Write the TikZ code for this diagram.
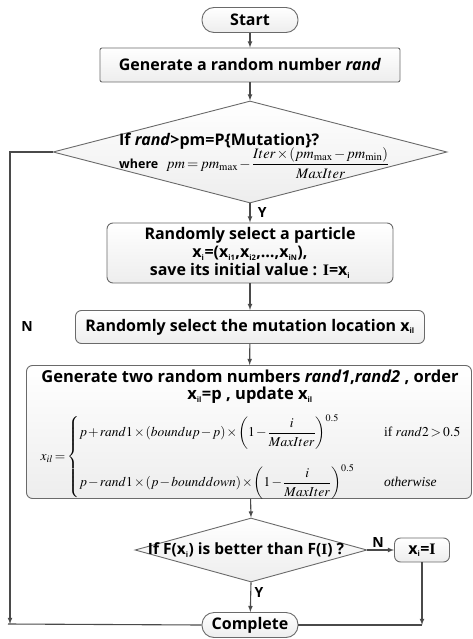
\documentclass[tikz,border=0pt]{standalone}
\usepackage{amsmath}
\usepackage{mathptmx}
\usepackage[no-math]{fontspec}
\setmainfont{Liberation Serif}
\setsansfont{Open Sans}
\usepackage{tikz}
\usetikzlibrary{shapes,arrows,positioning,calc}
\usepackage{xcolor}

\definecolor{edgegray}{HTML}{6A6A6A}
\definecolor{linegray}{HTML}{4A4A4A}
\newcommand{\lowidx}[1]{\textsubscript{\fontsize{7.5}{7.5}\selectfont #1}}
\newcommand{\serifI}{{\rmfamily\bfseries I}}
\newcommand{\tightmath}{\medmuskip=1.5mu\thickmuskip=2.5mu\thinmuskip=1mu}

\begin{document}
\begin{tikzpicture}[x=1pt, y=-1pt,
  step box/.style={draw=edgegray, line width=0.9pt, rounded corners=6pt, top color=white, bottom color=gray!14, align=center, font=\sffamily\bfseries\fontsize{16}{18}\selectfont, inner sep=2pt},
  terminal/.style={step box, rounded corners=12pt, minimum width=96pt, minimum height=25pt},
  decision/.style={diamond, draw=edgegray, line width=0.9pt, top color=white, bottom color=gray!14, inner sep=0pt},
  arr/.style={draw=linegray, line width=1.1pt, -latex},
  line/.style={draw=linegray, line width=1.1pt},
  tag/.style={font=\sffamily\bfseries\fontsize{14}{16}\selectfont, text=black}
]
  \useasboundingbox (0,0) rectangle (472,639);

  % main column
  \node[terminal] (start) at (250,20) {Start};
  \node[step box, rounded corners=2pt, minimum width=300pt, minimum height=34pt] (gen) at (250,65) {Generate a random number \textit{rand}};

  \node[decision, minimum width=394pt, minimum height=102pt] (cond1) at (250,152) {};
  \node[align=left, anchor=west, inner sep=0pt] (cond1txt) at (119,156)
    {{\sffamily\bfseries\fontsize{16}{18}\selectfont If \textit{rand}>pm=P\{Mutation\}?}\\[-3pt]
     {\sffamily\bfseries\fontsize{12.5}{14}\selectfont where}\hspace{0.8em}%
     {\fontsize{14.5}{16}\selectfont\tightmath$\displaystyle pm=pm_{\max}-\frac{Iter\times\left(pm_{\max}-pm_{\min}\right)}{MaxIter}$}};

  \node[step box, minimum width=286pt, minimum height=60pt] (pick) at (250,253)
    {Randomly select a particle\\
     x\lowidx{i}=(x\lowidx{i1},x\lowidx{i2},\dots,x\lowidx{iN}),\\
     save its initial value : \serifI=x\lowidx{i}};

  \node[step box, minimum width=349pt, minimum height=33pt] (loc) at (250,327)
    {Randomly select the mutation location x\lowidx{il}};

  \node[step box, minimum width=445pt, minimum height=133pt] (upd) at (249,432) {};
  \node[align=center, font=\sffamily\bfseries\fontsize{16.5}{17}\selectfont, inner sep=0pt] (updtxt) at (250,387)
    {Generate two random numbers \textit{rand1},\textit{rand2} , order\\
     x\lowidx{il}=p , update x\lowidx{il}};
  \node[inner sep=0pt, font=\fontsize{13.5}{15}\selectfont] (updeq) at (251,457)
    {\tightmath$x_{il}=\begin{cases}
       p+rand1\times\left(boundup-p\right)\times\left(1-\dfrac{i}{MaxIter}\right)^{0.5} & \hspace{1.2em}\text{if }rand2>0.5\\[22pt]
       p-rand1\times\left(p-bounddown\right)\times\left(1-\dfrac{i}{MaxIter}\right)^{0.5} & \hspace{1.2em}\textit{otherwise}
     \end{cases}$};

  \node[decision, minimum width=232pt, minimum height=64pt] (cond2) at (251,550) {};
  \node[font=\sffamily\bfseries\fontsize{15.5}{17}\selectfont, inner sep=0pt] (cond2txt) at (246,550)
    {If F(x\lowidx{i}) is better than F(\serifI) ?};

  \node[step box, minimum width=55pt, minimum height=24pt] (reset) at (422,550) {x\lowidx{i}=\serifI};
  \node[terminal] (done) at (250,625) {Complete};

  % connectors
  \draw[arr] (start) -- (gen);
  \draw[arr] (gen) -- (cond1.north);
  \draw[arr] (cond1.south) -- node[tag, right, pos=0.45, xshift=4pt] {Y} (pick);
  \draw[arr] (pick) -- (loc);
  \draw[arr] (loc) -- (upd);
  \draw[arr] (upd) -- (cond2.north);
  \draw[arr] (cond2.south) -- node[tag, right, pos=0.35] {Y} (done);
  \draw[arr] (cond2.east) -- node[tag, above, pos=0.4, yshift=-1pt] {N} (reset);

  \coordinate (lbot) at (10,624);
  \coordinate (rbot) at (reset.south |- done);
  \draw[arr] (cond1.west) -| (lbot);
  \draw[line] (8,624) -- (done.west);
  \draw[arr] (reset.south) -- (rbot);
  \draw[line] (done.east) -- (rbot);
  \node[tag] (nlabel) at (27,327) {N};
\end{tikzpicture}
\end{document}
